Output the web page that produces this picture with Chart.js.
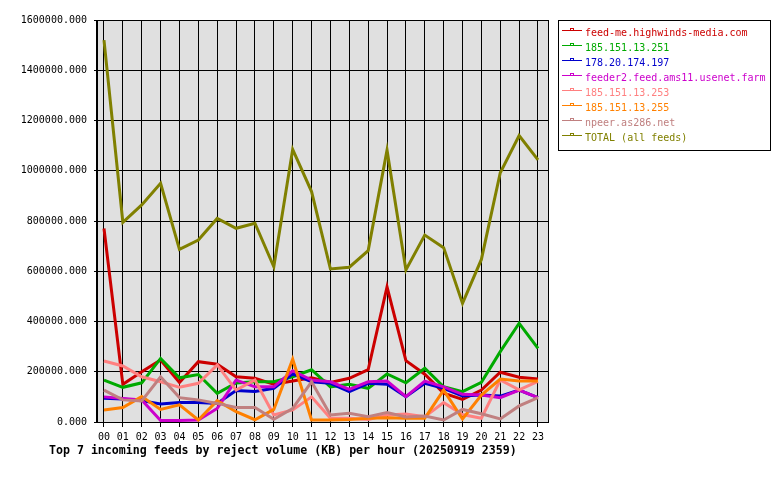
<!DOCTYPE html>
<html>
<head>
<meta charset="utf-8">
<title>Top 7 incoming feeds by reject volume</title>
<script src="https://cdn.jsdelivr.net/npm/chart.js@4.4.1/dist/chart.umd.min.js"></script>
<style>
    html, body { margin: 0; padding: 0; background: #fff; }
</style>
</head>
<body>
<canvas id="rejectChart" width="780" height="480"></canvas>
<script>
(function () {
    "use strict";

    var hours = ["00", "01", "02", "03", "04", "05", "06", "07", "08", "09", "10", "11",
                 "12", "13", "14", "15", "16", "17", "18", "19", "20", "21", "22", "23"];
    var yTicks = [0, 200000, 400000, 600000, 800000, 1000000, 1200000, 1400000, 1600000];

    var feedMe   = [770000, 150000, 200000, 247000, 157000, 240000, 230000, 180000, 174000, 150000, 163000, 176000,
                    157000, 174000, 208000, 538000, 244000, 190000, 115000, 90000, 127000, 198000, 178000, 171000];
    var feed251  = [167000, 138000, 156000, 253000, 176000, 189000, 114000, 155000, 160000, 160000, 180000, 208000,
                    140000, 150000, 134000, 191000, 156000, 214000, 140000, 121000, 158000, 280000, 393000, 293000];
    var feed197  = [95000, 92000, 85000, 72000, 78000, 78000, 74000, 125000, 121000, 134000, 192000, 160000,
                    154000, 121000, 154000, 150000, 101000, 154000, 134000, 104000, 107000, 103000, 127000, 97000];
    var feeder2  = [100000, 94000, 88000, 6000, 6000, 8000, 54000, 167000, 140000, 140000, 204000, 167000,
                    160000, 130000, 160000, 163000, 101000, 163000, 140000, 110000, 107000, 97000, 127000, 97000];
    var feed253  = [243000, 223000, 180000, 160000, 138000, 154000, 227000, 127000, 167000, 28000, 48000, 100000,
                    15000, 15000, 10000, 28000, 32000, 21000, 77000, 30000, 15000, 167000, 128000, 162000];
    var feed255  = [48000, 58000, 101000, 50000, 68000, 8000, 85000, 41000, 9000, 50000, 250000, 8000,
                    8000, 10000, 15000, 17000, 15000, 15000, 127000, 12000, 107000, 171000, 163000, 163000];
    var npeer    = [127000, 88000, 84000, 180000, 97000, 88000, 74000, 58000, 58000, 11000, 54000, 160000,
                    28000, 35000, 21000, 38000, 20000, 24000, 8000, 50000, 33000, 12000, 64000, 97000];
    var total    = [1520000, 795000, 864000, 950000, 687000, 724000, 810000, 771000, 791000, 618000, 1085000, 917000,
                    609000, 616000, 682000, 1082000, 605000, 744000, 694000, 472000, 647000, 992000, 1140000, 1043000];

    var feedNames = ["feed-me.highwinds-media.com", "185.151.13.251", "178.20.174.197",
                     "feeder2.feed.ams11.usenet.farm", "185.151.13.253", "185.151.13.255",
                     "npeer.as286.net", "TOTAL (all feeds)"];
    var feedValues = [feedMe, feed251, feed197, feeder2, feed253, feed255, npeer, total];
    var feedColors = ["#cc0000", "#00aa00", "#0000cc", "#cc00cc", "#ff8080", "#ff8000", "#c08080", "#808000"];

    var titleText = "Top 7 incoming feeds by reject volume (KB) per hour (20250919 2359)";
    var mono = "'DejaVu Sans Mono', monospace";

    var datasets = feedNames.map(function (name, i) {
        return {
            label: name,
            data: feedValues[i].map(function (v, h) { return { x: h, y: v }; }),
            borderColor: feedColors[i],
            backgroundColor: feedColors[i],
            borderWidth: 3,
            pointRadius: 0,
            tension: 0,
            fill: false,
            order: feedNames.length - i
        };
    });

    // grey plot background + outer frame
    var plotFrame = {
        id: "plotFrame",
        beforeDraw: function (chart) {
            var a = chart.chartArea, ctx = chart.ctx;
            ctx.save();
            ctx.fillStyle = "#e0e0e0";
            ctx.fillRect(a.left, a.top, a.right - a.left, a.bottom - a.top);
            ctx.restore();
        },
        afterDraw: function (chart) {
            var a = chart.chartArea, ctx = chart.ctx;
            ctx.save();
            ctx.strokeStyle = "#000";
            ctx.lineWidth = 1;
            ctx.strokeRect(Math.round(a.left) - 0.5, Math.round(a.top) + 0.5,
                           Math.round(a.right - a.left) + 1, Math.round(a.bottom - a.top));
            ctx.restore();
        }
    };

    // boxed legend on the right, coloured text
    var feedLegend = {
        id: "feedLegend",
        afterDraw: function (chart) {
            var ctx = chart.ctx;
            ctx.save();
            ctx.fillStyle = "#fff";
            ctx.fillRect(558.5, 20.5, 212, 130);
            ctx.strokeStyle = "#000";
            ctx.lineWidth = 1;
            ctx.strokeRect(558.5, 20.5, 212, 130);
            ctx.font = "10px " + mono;
            ctx.textBaseline = "middle";
            ctx.textAlign = "left";
            feedNames.forEach(function (name, i) {
                var y = 33 + i * 15;
                ctx.strokeStyle = feedColors[i];
                ctx.beginPath();
                ctx.moveTo(562, y - 2.5);
                ctx.lineTo(582, y - 2.5);
                ctx.stroke();
                ctx.strokeRect(570.5, y - 4.5, 3, 2);
                ctx.fillStyle = feedColors[i];
                ctx.fillText(name, 585, y);
            });
            ctx.restore();
        }
    };

    var bottomTitle = {
        id: "bottomTitle",
        afterDraw: function (chart) {
            var ctx = chart.ctx;
            ctx.save();
            ctx.font = "bold 11.6px " + mono;
            ctx.fillStyle = "#000";
            ctx.textBaseline = "middle";
            ctx.textAlign = "left";
            ctx.fillText(titleText, 49, 451);
            ctx.restore();
        }
    };

    var ctx = document.getElementById("rejectChart");
    var rejectChart = new Chart(ctx, {
        type: "line",
        data: { datasets: datasets },
        options: {
            responsive: false,
            animation: false,
            layout: { padding: { top: 20, right: 232, bottom: 38, left: 0 } },
            plugins: {
                legend: { display: false },
                title: { display: false },
                tooltip: { enabled: false }
            },
            scales: {
                x: {
                    type: "linear",
                    min: -0.37,
                    max: 23.53,
                    afterBuildTicks: function (scale) {
                        scale.ticks = hours.map(function (h, i) { return { value: i }; });
                    },
                    afterFit: function (scale) { scale.height = 20; },
                    ticks: {
                        autoSkip: false,
                        maxRotation: 0,
                        padding: 4,
                        color: "#000",
                        font: { family: mono, size: 10 },
                        callback: function (v) { return hours[v]; }
                    },
                    grid: { color: "#000", lineWidth: 1, tickLength: 5 },
                    border: { color: "#000", width: 1 }
                },
                y: {
                    min: 0,
                    max: 1600000,
                    afterBuildTicks: function (scale) {
                        scale.ticks = yTicks.map(function (v) { return { value: v }; });
                    },
                    afterFit: function (scale) { scale.width = 97; },
                    ticks: {
                        padding: 7,
                        color: "#000",
                        font: { family: mono, size: 10 },
                        callback: function (v) { return Number(v).toFixed(3); }
                    },
                    grid: { color: "#000", lineWidth: 1, tickLength: 3 },
                    border: { color: "#000", width: 1 }
                }
            }
        },
        plugins: [plotFrame, feedLegend, bottomTitle]
    });
})();
</script>
</body>
</html>
